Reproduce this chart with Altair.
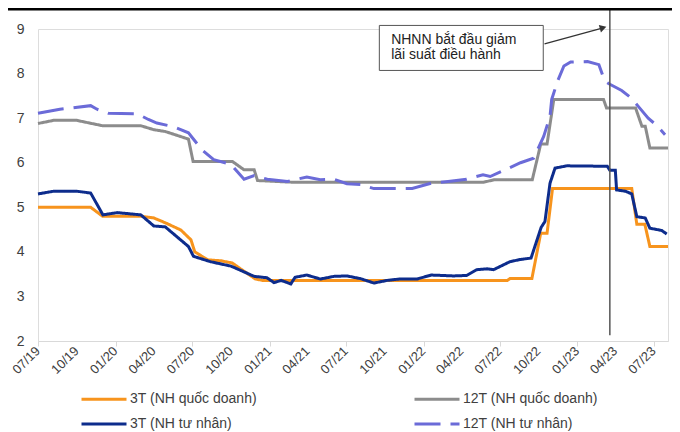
import altair as alt
import pandas as pd

FONT = "Liberation Sans"

SERIES = ["3T (NH quốc doanh)", "12T (NH quốc doanh)", "3T (NH tư nhân)", "12T (NH tư nhân)"]
COLORS = ["#F7941D", "#8C8C8C", "#0D2C8C", "#6B6BD8"]
DASHES = [[1, 0], [1, 0], [1, 0], [26, 10]]

# 3T (NH quốc doanh)
soe3_dates = ["2019-07-01", "2019-11-03", "2019-12-01", "2020-03-01", "2020-04-01", "2020-05-01",
              "2020-06-04", "2020-06-28", "2020-07-07", "2020-08-07", "2020-09-07", "2020-10-04",
              "2020-10-25", "2020-11-28", "2020-12-15", "2022-07-19", "2022-07-25", "2022-09-15",
              "2022-10-06", "2022-10-21", "2022-11-03", "2023-05-10", "2023-05-22", "2023-06-10",
              "2023-06-22", "2023-08-04"]
soe3_vals = [5.0, 5.0, 4.8, 4.8, 4.76, 4.64, 4.49, 4.27, 4.0, 3.82, 3.80, 3.75, 3.61, 3.39, 3.36,
             3.36, 3.40, 3.40, 4.42, 4.42, 5.42, 5.42, 4.62, 4.62, 4.12, 4.12]

# 3T (NH tư nhân)
pri3_dates = ["2019-07-01", "2019-08-07", "2019-10-01", "2019-11-03", "2019-12-02", "2020-01-05",
              "2020-03-01", "2020-04-01", "2020-04-28", "2020-06-22", "2020-07-04", "2020-08-13",
              "2020-10-01", "2020-11-25", "2020-12-25", "2021-01-11", "2021-01-28", "2021-02-20",
              "2021-03-02", "2021-03-30", "2021-05-01", "2021-06-02", "2021-07-03", "2021-08-04",
              "2021-09-05", "2021-10-07", "2021-11-04", "2021-12-16", "2022-01-19", "2022-03-13",
              "2022-04-13", "2022-05-07", "2022-06-01", "2022-06-16", "2022-07-25", "2022-08-19",
              "2022-09-13", "2022-10-07", "2022-10-16", "2022-10-28", "2022-11-09", "2022-12-07",
              "2023-03-13", "2023-03-19", "2023-04-01", "2023-04-04", "2023-04-25", "2023-05-10",
              "2023-05-22", "2023-06-11", "2023-06-22", "2023-07-20", "2023-08-01"]
pri3_vals = [5.30, 5.36, 5.36, 5.32, 4.83, 4.88, 4.83, 4.58, 4.56, 4.12, 3.90, 3.78, 3.68, 3.45,
             3.42, 3.31, 3.36, 3.28, 3.43, 3.48, 3.39, 3.45, 3.46, 3.40, 3.30, 3.36, 3.39, 3.39,
             3.48, 3.46, 3.47, 3.60, 3.62, 3.60, 3.78, 3.83, 3.86, 4.55, 4.68, 5.54, 5.88, 5.93,
             5.92, 5.83, 5.83, 5.39, 5.36, 5.30, 4.79, 4.76, 4.53, 4.48, 4.40]

# 12T (NH quốc doanh)
soe12_dates = ["2019-07-01", "2019-08-07", "2019-10-01", "2019-12-01", "2020-03-01", "2020-04-01",
               "2020-04-28", "2020-06-22", "2020-07-03", "2020-10-04", "2020-11-01", "2020-11-25",
               "2020-12-03", "2021-03-01", "2022-05-22", "2022-06-19", "2022-09-16", "2022-10-06",
               "2022-10-21", "2022-11-06", "2023-03-04", "2023-03-11", "2023-05-19", "2023-06-03",
               "2023-06-11", "2023-06-22", "2023-08-04"]
soe12_vals = [6.88, 6.95, 6.95, 6.83, 6.83, 6.74, 6.70, 6.53, 6.03, 6.03, 5.84, 5.84, 5.60, 5.56,
              5.56, 5.62, 5.62, 6.42, 6.42, 7.42, 7.42, 7.23, 7.23, 6.82, 6.82, 6.33, 6.33]

# 12T (NH tư nhân)
pri12_dates = ["2019-07-01", "2019-08-22", "2019-11-03", "2019-11-18", "2019-12-15", "2020-02-21",
               "2020-03-19", "2020-04-08", "2020-05-17", "2020-06-22", "2020-07-24", "2020-08-21",
               "2020-10-01", "2020-10-12", "2020-11-01", "2020-11-25", "2020-12-26", "2021-02-12",
               "2021-03-30", "2021-05-01", "2021-06-02", "2021-07-03", "2021-08-04", "2021-09-05",
               "2021-10-07", "2021-12-05", "2022-01-19", "2022-02-28", "2022-04-13", "2022-05-22",
               "2022-06-08", "2022-07-18", "2022-08-19", "2022-09-19", "2022-10-13", "2022-10-28",
               "2022-11-01", "2022-11-15", "2022-11-30", "2022-12-16", "2023-01-25", "2023-02-21",
               "2023-03-07", "2023-03-19", "2023-04-16", "2023-05-09", "2023-05-25", "2023-06-18",
               "2023-07-09", "2023-07-28"]
pri12_vals = [7.11, 7.20, 7.28, 7.20, 7.11, 7.10, 6.97, 6.89, 6.81, 6.67, 6.29, 6.07, 5.96, 5.84,
              5.63, 5.71, 5.63, 5.58, 5.68, 5.62, 5.63, 5.53, 5.51, 5.42, 5.42, 5.42, 5.54, 5.58,
              5.63, 5.73, 5.69, 5.86, 6.00, 6.10, 6.59, 7.04, 7.42, 7.83, 8.17, 8.26, 8.27, 8.20,
              7.83, 7.76, 7.62, 7.45, 7.27, 7.00, 6.83, 6.63]

TICK_DATES = ["2019-07-01", "2019-10-01", "2020-01-01", "2020-04-01", "2020-07-01", "2020-10-01",
              "2021-01-01", "2021-04-01", "2021-07-01", "2021-10-01", "2022-01-01", "2022-04-01",
              "2022-07-01", "2022-10-01", "2023-01-01", "2023-04-01", "2023-07-01"]
TICK_LABELS = ["07/19", "10/19", "01/20", "04/20", "07/20", "10/20", "01/21", "04/21", "07/21",
               "10/21", "01/22", "04/22", "07/22", "10/22", "01/23", "04/23", "07/23"]
Y_TICKS = [2, 3, 4, 5, 6, 7, 8, 9]

# annotation
ANN_TEXT = ["NHNN bắt đầu giảm", "lãi suất điều hành"]
ann_text_date = "2021-10-16"
ann_text_y = [8.667, 8.33]
ann_box_dates = ["2021-09-18", "2022-10-12"]
ann_box_y = [9.08, 8.07]
arrow_dates = ["2022-10-15", "2023-03-03"]
arrow_y = [8.667, 9.027]
vline_date = "2023-03-19"
vline_bottom = 2.13


def ts(d):
    return d + "T00:00:00"


rows = []
for name, ds, vs in [(SERIES[0], soe3_dates, soe3_vals), (SERIES[1], soe12_dates, soe12_vals),
                     (SERIES[2], pri3_dates, pri3_vals), (SERIES[3], pri12_dates, pri12_vals)]:
    for d, v in zip(ds, vs):
        rows.append({"date": ts(d), "rate": v, "series": name})
df = pd.DataFrame(rows)

x_scale = alt.Scale(domain=[alt.DateTime(year=2019, month=7, date=1),
                            alt.DateTime(year=2023, month=8, date=4)])
y_scale = alt.Scale(domain=[2, 9], nice=False, zero=False)

x_axis = alt.Axis(values=[alt.DateTime(year=int(d[:4]), month=int(d[5:7]), date=1) for d in TICK_DATES],
                  labels=False, domainColor="#D9D9D9", tickColor="#D9D9D9", tickSize=5,
                  grid=False, title=None)
y_axis = alt.Axis(values=Y_TICKS, labelFont=FONT, labelFontSize=14, labelColor="#404040",
                  domain=False, ticks=False, grid=False, labelPadding=14, title=None)

legend = alt.Legend(orient="none", legendX=67, legendY=358.5, columns=2, columnPadding=151,
                    direction="horizontal",
                    rowPadding=6, symbolType="M-3.5,0H1", symbolSize=400, symbolStrokeWidth=3,
                    labelFont=FONT, labelFontSize=14, labelColor="#404040", labelOffset=2,
                    title=None, padding=0)

lines = alt.Chart(df).mark_line(strokeWidth=3).encode(
    x=alt.X("date:T", scale=x_scale, axis=x_axis),
    y=alt.Y("rate:Q", scale=y_scale, axis=y_axis),
    color=alt.Color("series:N", scale=alt.Scale(domain=SERIES, range=COLORS), legend=legend),
    strokeDash=alt.StrokeDash("series:N", scale=alt.Scale(domain=SERIES, range=DASHES), legend=legend),
)

xlabels = alt.Chart(pd.DataFrame({"date": [ts(d) for d in TICK_DATES], "lab": TICK_LABELS})).mark_text(
    angle=315, align="right", baseline="middle", font=FONT, fontSize=13, color="#404040"
).encode(x="date:T", y=alt.value(320), text="lab:N")

top_rule = alt.Chart(pd.DataFrame({"a": [0]})).mark_rule(color="#000000", strokeWidth=3).encode(
    x=alt.value(-32), x2=alt.value(635), y=alt.value(-20)
)

vline = alt.Chart(pd.DataFrame({"date": [ts(vline_date)], "bottom": [vline_bottom]})).mark_rule(
    color="#555555", strokeWidth=1.5
).encode(x="date:T", y="bottom:Q", y2=alt.value(-20))

box = alt.Chart(pd.DataFrame({"x0": [ts(ann_box_dates[0])], "x1": [ts(ann_box_dates[1])],
                              "y0": [ann_box_y[0]], "y1": [ann_box_y[1]]})).mark_rect(
    fill="#FFFFFF", stroke="#555555", strokeWidth=1
).encode(x="x0:T", x2="x1:T", y="y0:Q", y2="y1:Q")

texts = alt.Chart(pd.DataFrame({"date": [ts(ann_text_date)] * 2, "y": ann_text_y, "t": ANN_TEXT})).mark_text(
    align="left", baseline="alphabetic", font=FONT, fontSize=14, color="#222222"
).encode(x="date:T", y="y:Q", text="t:N")

arrow = alt.Chart(pd.DataFrame({"date": [ts(d) for d in arrow_dates], "y": arrow_y})).mark_line(
    color="#333333", strokeWidth=1.2
).encode(x="date:T", y="y:Q")

head = alt.Chart(pd.DataFrame({"date": [ts(arrow_dates[1])], "y": [arrow_y[1]]})).mark_point(
    shape="triangle-right", filled=True, size=60, angle=344, color="#333333", opacity=1
).encode(x="date:T", y="y:Q")

chart = alt.layer(lines, xlabels, box, texts, arrow, head, vline, top_rule).properties(
    width=630, height=312,
    padding={"left": 30, "top": 21, "right": 4, "bottom": 91},
    autosize=alt.AutoSizeParams(type="none"),
).configure_view(stroke=None).configure(background="#FFFFFF")

chart.save("out.html", embed_options={"renderer": "svg", "actions": False})
